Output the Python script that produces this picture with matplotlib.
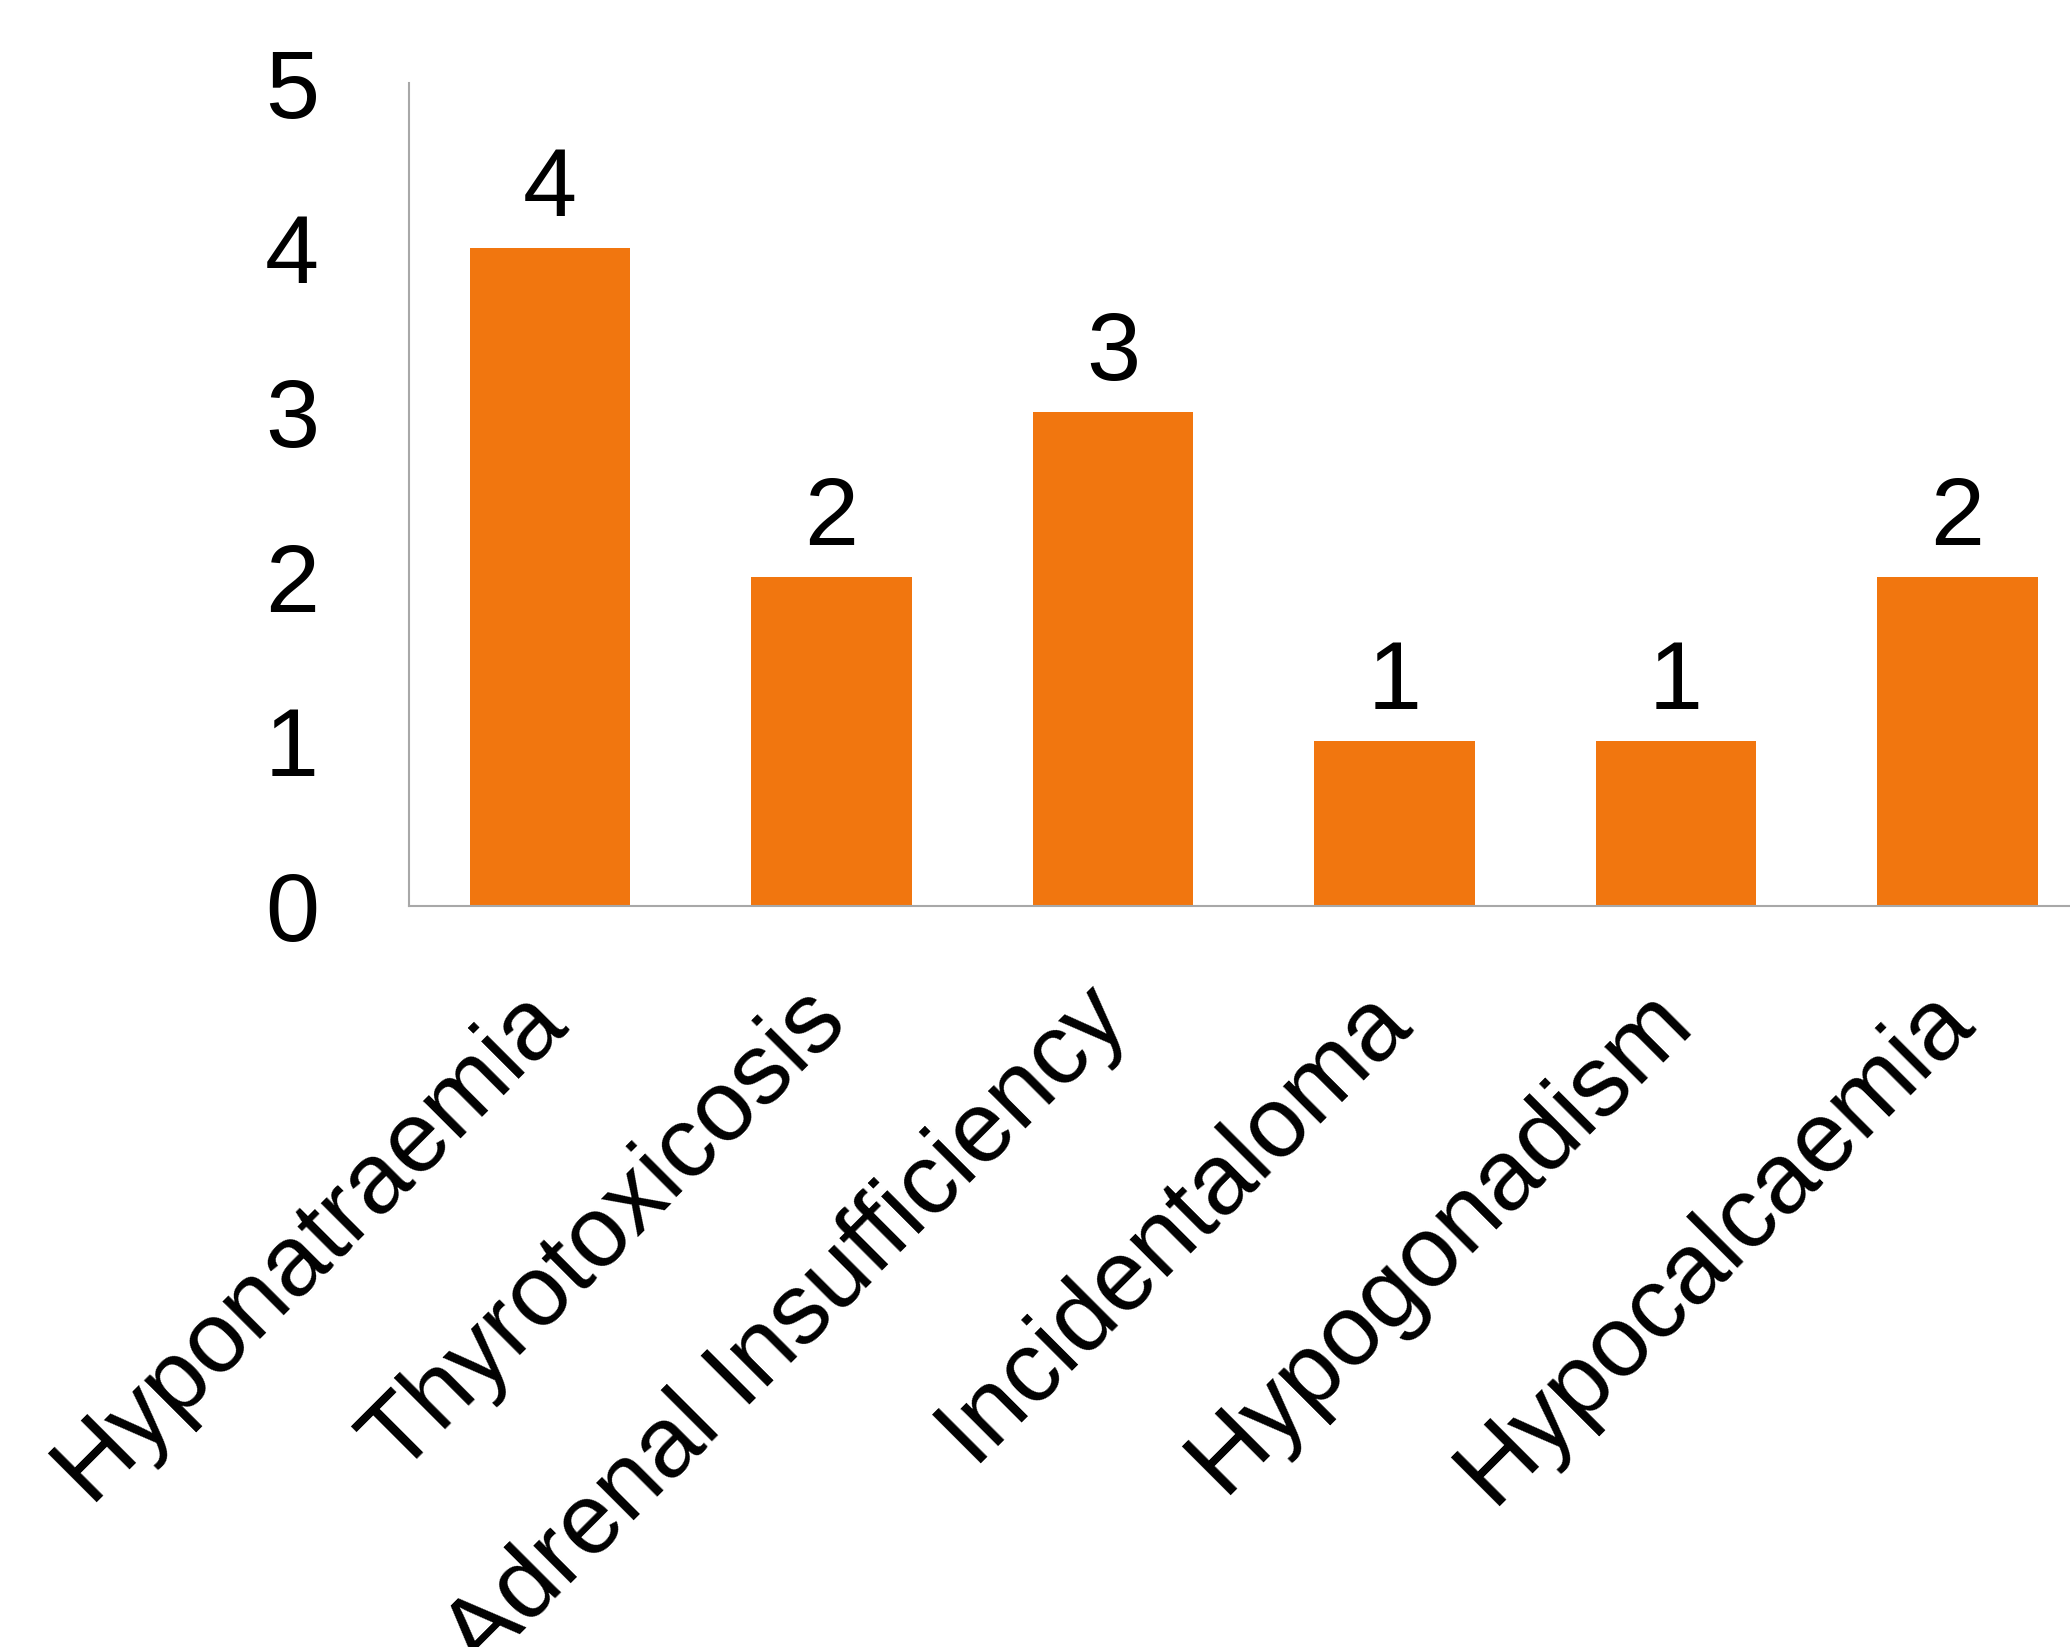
import matplotlib.pyplot as plt

plt.rcParams['font.family'] = ['Liberation Sans', 'DejaVu Sans']

# cases per endocrine diagnosis
categories = ['Hyponatraemia', 'Thyrotoxicosis', 'Adrenal Insufficiency',
              'Incidentaloma', 'Hypogonadism', 'Hypocalcaemia']
counts = [4, 2, 3, 1, 1, 2]
yticks = [0, 1, 2, 3, 4, 5]

fig = plt.figure(figsize=(20.7, 16.47), dpi=100)
ax = fig.add_axes([0.1977, 0.4499, 0.8159, 0.4997])

x = range(len(categories))
ax.bar(x, counts, width=0.57, color='#F1760F', zorder=2)

for xi, v in zip(x, counts):
    ax.annotate(str(v), (xi, v), xytext=(0, 23), textcoords='offset points',
                ha='center', va='baseline', fontsize=70)

ax.set_xlim(-0.5, len(categories) - 0.5)
ax.set_ylim(0, 5)
ax.set_yticks(yticks)
ax.set_yticklabels([str(t) for t in yticks], fontsize=70)
ax.set_xticks(list(x))
ax.set_xticklabels(categories, fontsize=72, rotation=45, ha='right',
                   va='center', rotation_mode='anchor')
ax.tick_params(axis='y', length=0, pad=65)
ax.tick_params(axis='x', length=0, pad=71)

for side in ['top', 'right']:
    ax.spines[side].set_visible(False)
for side in ['left', 'bottom']:
    ax.spines[side].set_color('#a8a8a8')
    ax.spines[side].set_linewidth(1.5)

fig.savefig('out.png', dpi=100)
